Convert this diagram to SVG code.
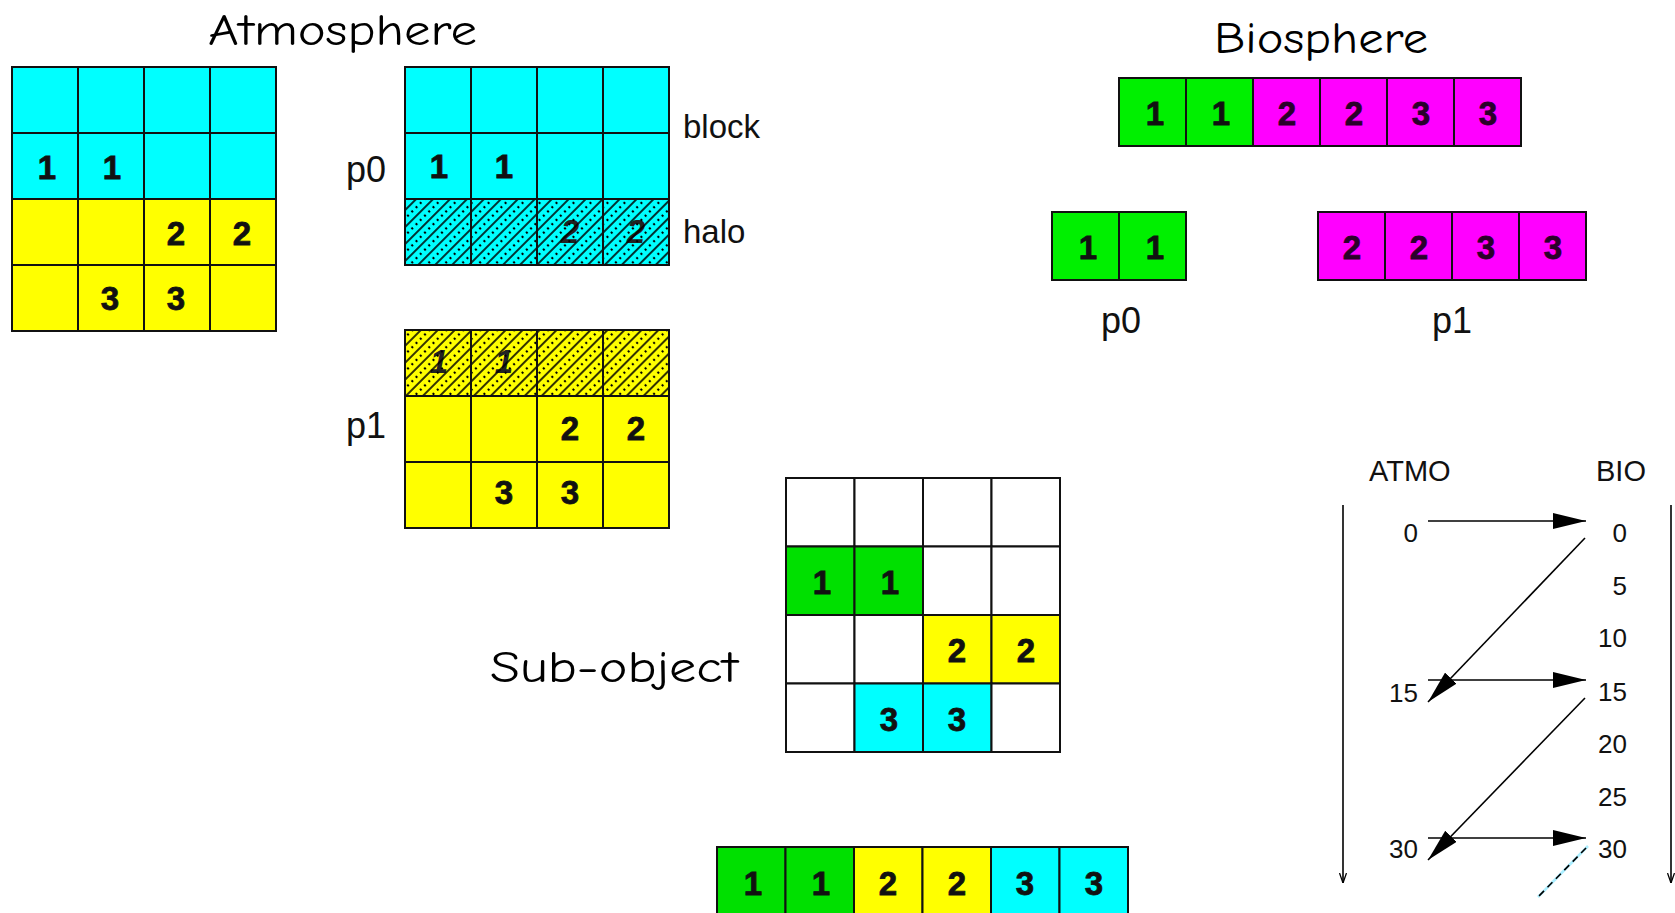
<svg xmlns="http://www.w3.org/2000/svg" width="1675" height="913" viewBox="0 0 1675 913">
<style>
.c{stroke:#111;stroke-width:2}
.cy{fill:#00ffff}.ye{fill:#ffff00}.gr{fill:#00f000}.gr2{fill:#00e000}.mg{fill:#ff00ff}.wh{fill:#ffffff}
.d{font-family:"Liberation Sans",Arial,sans-serif;font-weight:bold;font-size:33px;text-anchor:middle;fill:#111;stroke:#111;stroke-width:0.8}
.dm{font-family:"Liberation Sans",Arial,sans-serif;font-weight:bold;font-size:33px;text-anchor:middle;fill:#2a002a;stroke:#2a002a;stroke-width:0.8}
.dh{font-family:"Liberation Sans",Arial,sans-serif;font-style:italic;font-weight:bold;font-size:33px;text-anchor:middle;fill:#222}
.t{font-family:"Comic Sans MS","Comic Neue","DejaVu Sans",sans-serif;font-size:44px;fill:#000}
.l{font-family:"Liberation Sans",Arial,sans-serif;font-size:36px;fill:#111}
.s{font-family:"Liberation Sans",Arial,sans-serif;font-size:33px;fill:#111}
.n{font-family:"Liberation Sans",Arial,sans-serif;font-size:26px;fill:#111;text-anchor:end}
.h{font-family:"Liberation Sans",Arial,sans-serif;font-size:29px;fill:#111}
.ar{stroke:#000;stroke-width:1.6;fill:none}
</style>
<defs>
<pattern id="hatch" patternUnits="userSpaceOnUse" width="12" height="12" patternTransform="rotate(45)">
<line x1="3" y1="0" x2="3" y2="12" stroke="#000" stroke-width="1.6"/>
<line x1="9" y1="1" x2="9" y2="12" stroke="#000" stroke-width="2.2" stroke-dasharray="2 4"/>
</pattern>
<marker id="big" viewBox="0 0 33 16" refX="33" refY="8" markerWidth="33" markerHeight="16" markerUnits="userSpaceOnUse" orient="auto">
<path d="M0,0 L33,8 L0,16 Z" fill="#000"/>
</marker>
<marker id="small" viewBox="0 0 10 8" refX="10" refY="4" markerWidth="10" markerHeight="8" markerUnits="userSpaceOnUse" orient="auto">
<path d="M0,0.5 L10,4 L0,7.5" fill="none" stroke="#000" stroke-width="1.3"/>
</marker>
</defs>
<rect width="1675" height="913" fill="#fff"/>

<text class="t" x="208" y="45" textLength="269" lengthAdjust="spacingAndGlyphs">Atmosphere</text>
<text class="t" x="1214" y="53" textLength="214" lengthAdjust="spacingAndGlyphs">Biosphere</text>
<text class="t" x="490" y="682" font-size="46" textLength="248" lengthAdjust="spacingAndGlyphs">Sub-object</text>

<g id="atmo-full">
<rect class="c cy" x="12" y="67" width="66" height="66"/><rect class="c cy" x="78" y="67" width="66" height="66"/><rect class="c cy" x="144" y="67" width="66" height="66"/><rect class="c cy" x="210" y="67" width="66" height="66"/>
<rect class="c cy" x="12" y="133" width="66" height="66"/><rect class="c cy" x="78" y="133" width="66" height="66"/><rect class="c cy" x="144" y="133" width="66" height="66"/><rect class="c cy" x="210" y="133" width="66" height="66"/>
<rect class="c ye" x="12" y="199" width="66" height="66"/><rect class="c ye" x="78" y="199" width="66" height="66"/><rect class="c ye" x="144" y="199" width="66" height="66"/><rect class="c ye" x="210" y="199" width="66" height="66"/>
<rect class="c ye" x="12" y="265" width="66" height="66"/><rect class="c ye" x="78" y="265" width="66" height="66"/><rect class="c ye" x="144" y="265" width="66" height="66"/><rect class="c ye" x="210" y="265" width="66" height="66"/>
<text class="d" x="47" y="179">1</text><text class="d" x="112" y="179">1</text>
<text class="d" x="176" y="245">2</text><text class="d" x="242" y="245">2</text>
<text class="d" x="110" y="310">3</text><text class="d" x="176" y="310">3</text>
</g>

<g id="atmo-p0">
<text class="l" x="346" y="182">p0</text>
<rect class="c cy" x="405" y="67" width="66" height="66"/><rect class="c cy" x="471" y="67" width="66" height="66"/><rect class="c cy" x="537" y="67" width="66" height="66"/><rect class="c cy" x="603" y="67" width="66" height="66"/>
<rect class="c cy" x="405" y="133" width="66" height="66"/><rect class="c cy" x="471" y="133" width="66" height="66"/><rect class="c cy" x="537" y="133" width="66" height="66"/><rect class="c cy" x="603" y="133" width="66" height="66"/>
<rect class="cy" x="405" y="199" width="264" height="66"/>
<text class="d" x="439" y="178">1</text><text class="d" x="504" y="178">1</text>
<text class="dh" x="570" y="243">2</text><text class="dh" x="636" y="243">2</text>
<rect x="405" y="199" width="264" height="66" fill="url(#hatch)"/>
<rect class="c" fill="none" x="405" y="199" width="66" height="66"/><rect class="c" fill="none" x="471" y="199" width="66" height="66"/><rect class="c" fill="none" x="537" y="199" width="66" height="66"/><rect class="c" fill="none" x="603" y="199" width="66" height="66"/>
<text class="s" x="683" y="138">block</text>
<text class="s" x="683" y="243">halo</text>
</g>

<g id="atmo-p1">
<text class="l" x="346" y="438">p1</text>
<rect class="ye" x="405" y="330" width="264" height="66"/>
<text class="dh" x="439" y="373">1</text><text class="dh" x="504" y="373">1</text>
<rect x="405" y="330" width="264" height="66" fill="url(#hatch)"/>
<rect class="c" fill="none" x="405" y="330" width="66" height="66"/><rect class="c" fill="none" x="471" y="330" width="66" height="66"/><rect class="c" fill="none" x="537" y="330" width="66" height="66"/><rect class="c" fill="none" x="603" y="330" width="66" height="66"/>
<rect class="c ye" x="405" y="396" width="66" height="66"/><rect class="c ye" x="471" y="396" width="66" height="66"/><rect class="c ye" x="537" y="396" width="66" height="66"/><rect class="c ye" x="603" y="396" width="66" height="66"/>
<rect class="c ye" x="405" y="462" width="66" height="66"/><rect class="c ye" x="471" y="462" width="66" height="66"/><rect class="c ye" x="537" y="462" width="66" height="66"/><rect class="c ye" x="603" y="462" width="66" height="66"/>
<text class="d" x="570" y="440">2</text><text class="d" x="636" y="440">2</text>
<text class="d" x="504" y="504">3</text><text class="d" x="570" y="504">3</text>
</g>

<g id="bio-full">
<rect class="c gr" x="1119" y="78" width="67" height="68"/><rect class="c gr" x="1186" y="78" width="67" height="68"/>
<rect class="c mg" x="1253" y="78" width="67" height="68"/><rect class="c mg" x="1320" y="78" width="67" height="68"/><rect class="c mg" x="1387" y="78" width="67" height="68"/><rect class="c mg" x="1454" y="78" width="67" height="68"/>
<text class="d" x="1155" y="125">1</text><text class="d" x="1221" y="125">1</text>
<text class="dm" x="1287" y="125">2</text><text class="dm" x="1354" y="125">2</text><text class="dm" x="1421" y="125">3</text><text class="dm" x="1488" y="125">3</text>
</g>

<g id="bio-p0">
<rect class="c gr" x="1052" y="212" width="67" height="68"/><rect class="c gr" x="1119" y="212" width="67" height="68"/>
<text class="d" x="1088" y="259">1</text><text class="d" x="1155" y="259">1</text>
<text class="l" x="1101" y="333">p0</text>
</g>

<g id="bio-p1">
<rect class="c mg" x="1318" y="212" width="67" height="68"/><rect class="c mg" x="1385" y="212" width="67" height="68"/><rect class="c mg" x="1452" y="212" width="67" height="68"/><rect class="c mg" x="1519" y="212" width="67" height="68"/>
<text class="dm" x="1352" y="259">2</text><text class="dm" x="1419" y="259">2</text><text class="dm" x="1486" y="259">3</text><text class="dm" x="1553" y="259">3</text>
<text class="l" x="1432" y="333">p1</text>
</g>

<g id="subobject">
<rect class="c wh" x="786" y="478" width="68.5" height="68.5"/><rect class="c wh" x="854.5" y="478" width="68.5" height="68.5"/><rect class="c wh" x="923" y="478" width="68.5" height="68.5"/><rect class="c wh" x="991.5" y="478" width="68.5" height="68.5"/>
<rect class="c gr2" x="786" y="546.5" width="68.5" height="68.5"/><rect class="c gr2" x="854.5" y="546.5" width="68.5" height="68.5"/><rect class="c wh" x="923" y="546.5" width="68.5" height="68.5"/><rect class="c wh" x="991.5" y="546.5" width="68.5" height="68.5"/>
<rect class="c wh" x="786" y="615" width="68.5" height="68.5"/><rect class="c wh" x="854.5" y="615" width="68.5" height="68.5"/><rect class="c ye" x="923" y="615" width="68.5" height="68.5"/><rect class="c ye" x="991.5" y="615" width="68.5" height="68.5"/>
<rect class="c wh" x="786" y="683.5" width="68.5" height="68.5"/><rect class="c cy" x="854.5" y="683.5" width="68.5" height="68.5"/><rect class="c cy" x="923" y="683.5" width="68.5" height="68.5"/><rect class="c wh" x="991.5" y="683.5" width="68.5" height="68.5"/>
<text class="d" x="822" y="594">1</text><text class="d" x="890" y="594">1</text>
<text class="d" x="957" y="662">2</text><text class="d" x="1026" y="662">2</text>
<text class="d" x="889" y="731">3</text><text class="d" x="957" y="731">3</text>
</g>

<g id="packed">
<rect class="c gr2" x="717" y="847" width="68.5" height="70"/><rect class="c gr2" x="785.5" y="847" width="68.5" height="70"/>
<rect class="c ye" x="854" y="847" width="68.5" height="70"/><rect class="c ye" x="922.5" y="847" width="68.5" height="70"/>
<rect class="c cy" x="991" y="847" width="68.5" height="70"/><rect class="c cy" x="1059.5" y="847" width="68.5" height="70"/>
<text class="d" x="753" y="895">1</text><text class="d" x="821" y="895">1</text>
<text class="d" x="888" y="895">2</text><text class="d" x="957" y="895">2</text>
<text class="d" x="1025" y="895">3</text><text class="d" x="1094" y="895">3</text>
</g>

<g id="timeline-labels">
<text class="h" x="1369" y="481">ATMO</text>
<text class="h" x="1596" y="481">BIO</text>
<text class="n" x="1418" y="542">0</text>
<text class="n" x="1418" y="702">15</text>
<text class="n" x="1418" y="858">30</text>
<text class="n" x="1627" y="542">0</text>
<text class="n" x="1627" y="595">5</text>
<text class="n" x="1627" y="647">10</text>
<text class="n" x="1627" y="701">15</text>
<text class="n" x="1627" y="753">20</text>
<text class="n" x="1627" y="806">25</text>
<text class="n" x="1627" y="858">30</text>
</g>

<g id="connectors">
<line class="ar" x1="1343" y1="505" x2="1343" y2="883" stroke-width="1.4" marker-end="url(#small)"/>
<line class="ar" x1="1671" y1="505" x2="1671" y2="883" stroke-width="1.4" marker-end="url(#small)"/>
<line class="ar" x1="1428" y1="521" x2="1586" y2="521" marker-end="url(#big)"/>
<line class="ar" x1="1585" y1="538" x2="1428" y2="702" stroke-width="2.2" marker-end="url(#big)"/>
<line class="ar" x1="1428" y1="680" x2="1586" y2="680" marker-end="url(#big)"/>
<line class="ar" x1="1585" y1="698" x2="1428" y2="860" stroke-width="2.2" marker-end="url(#big)"/>
<line class="ar" x1="1428" y1="838" x2="1586" y2="838" marker-end="url(#big)"/>
<line x1="1588" y1="846" x2="1538" y2="897" stroke="#aef" stroke-width="2.5"/>
<line class="ar" x1="1586" y1="848" x2="1538" y2="897" stroke-width="1.6" stroke-dasharray="7 5"/>
</g>
</svg>
